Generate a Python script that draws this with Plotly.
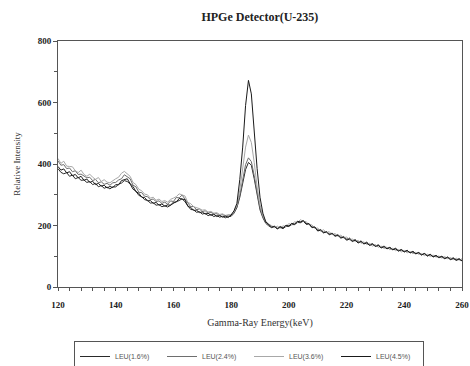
import plotly.graph_objects as go

energy = list(range(120, 261))

leu_16 = [385, 373, 368, 372, 360, 364, 352, 356, 347, 348, 340, 343, 333, 337, 326, 330, 321, 325, 319, 326,
          325, 335, 338, 346, 343, 335, 318, 312, 298, 294, 284, 282, 273, 274, 266, 268, 261, 264, 260, 266,
          270, 278, 281, 287, 277, 263, 252, 251, 243, 245, 237, 240, 232, 236, 229, 233, 227, 230, 225, 229,
          230, 240, 258, 292, 338, 382, 405, 396, 352, 296, 251, 225, 207, 199, 193, 196, 190, 194, 190, 197,
          197, 203, 203, 210, 209, 214, 204, 205, 193, 194, 184, 186, 177, 180, 172, 175, 166, 170, 161, 164,
          155, 159, 150, 154, 145, 150, 141, 146, 137, 141, 133, 137, 129, 133, 125, 129, 122, 126, 118, 122,
          115, 119, 111, 116, 108, 112, 105, 109, 102, 106, 99, 103, 96, 100, 94, 97, 91, 95, 88, 92, 86]

leu_24 = [410, 396, 398, 385, 387, 375, 378, 366, 367, 360, 355, 357, 346, 350, 339, 342, 334, 337, 331, 339,
          340, 348, 352, 365, 358, 352, 331, 326, 308, 307, 295, 294, 284, 286, 278, 280, 272, 276, 269, 280,
          278, 291, 290, 299, 286, 275, 261, 262, 251, 254, 245, 248, 240, 243, 237, 239, 232, 236, 230, 234,
          232, 242, 262, 298, 345, 398, 420, 408, 362, 303, 257, 228, 211, 203, 195, 198, 191, 197, 193, 200,
          199, 206, 205, 213, 212, 216, 207, 206, 195, 195, 186, 187, 179, 180, 173, 174, 168, 169, 162, 163,
          156, 157, 151, 153, 147, 148, 142, 144, 138, 140, 134, 136, 130, 132, 126, 128, 122, 124, 118, 120,
          115, 117, 111, 114, 108, 110, 105, 107, 101, 104, 98, 101, 95, 98, 93, 95, 90, 93, 87, 90, 85]

leu_36 = [418, 402, 409, 393, 392, 391, 378, 372, 380, 366, 360, 367, 357, 350, 356, 343, 349, 341, 339, 347,
          352, 357, 370, 376, 368, 360, 340, 333, 318, 313, 302, 300, 289, 292, 282, 286, 278, 281, 276, 285,
          289, 294, 303, 300, 296, 275, 271, 261, 259, 255, 250, 251, 244, 246, 240, 242, 236, 238, 233, 235,
          236, 246, 266, 315, 380, 455, 494, 470, 405, 325, 268, 232, 214, 204, 200, 193, 198, 191, 199, 197,
          206, 203, 212, 209, 219, 213, 213, 201, 202, 190, 192, 181, 186, 177, 180, 170, 174, 165, 169, 159,
          163, 153, 156, 148, 152, 142, 147, 138, 142, 133, 138, 129, 133, 125, 130, 121, 126, 118, 122, 114,
          119, 111, 116, 108, 113, 106, 109, 102, 107, 99, 104, 97, 101, 94, 99, 92, 96, 89, 94, 87, 92]

leu_45 = [392, 380, 384, 371, 375, 362, 366, 355, 360, 347, 351, 340, 344, 333, 337, 328, 331, 322, 327, 323,
          333, 332, 346, 349, 352, 336, 327, 310, 305, 292, 291, 280, 281, 272, 275, 266, 270, 263, 267, 266,
          276, 276, 288, 286, 284, 262, 259, 249, 250, 242, 244, 237, 240, 233, 237, 229, 233, 227, 231, 226,
          234, 248, 272, 350, 455, 590, 672, 628, 505, 385, 292, 240, 212, 203, 195, 197, 189, 196, 191, 201,
          198, 207, 204, 214, 211, 216, 205, 206, 194, 195, 182, 185, 176, 179, 170, 174, 165, 168, 159, 162,
          152, 156, 148, 152, 143, 148, 140, 143, 135, 139, 132, 135, 127, 131, 124, 128, 121, 124, 117, 121,
          114, 119, 111, 115, 108, 112, 104, 109, 101, 106, 98, 102, 96, 99, 92, 97, 89, 93, 87, 91, 85]

series_names = ["LEU(1.6%)", "LEU(2.4%)", "LEU(3.6%)", "LEU(4.5%)"]
series_values = [leu_16, leu_24, leu_36, leu_45]
series_colors = ["#2a2a2a", "#6e6e6e", "#a8a8a8", "#1a1a1a"]

fig = go.Figure()
for name, vals, col in zip(series_names, series_values, series_colors):
    fig.add_trace(go.Scatter(x=energy, y=vals, mode="lines", name=name,
                             line=dict(color=col, width=1)))

serif = "Liberation Serif"
fig.update_layout(
    width=470, height=366,
    margin=dict(l=58, r=8, t=41, b=79),
    paper_bgcolor="white", plot_bgcolor="white",
    title=dict(text="HPGe Detector(U-235)", x=0.553, xanchor="center",
               y=1 - 17 / 366, yanchor="middle",
               font=dict(family=serif, size=12, color="#222", weight="bold")),
    showlegend=True,
    legend=dict(orientation="h", xref="container", yref="container",
                x=74 / 470, xanchor="left", y=1 - 341 / 366, yanchor="top",
                bordercolor="#555", borderwidth=1, entrywidth=42,
                font=dict(family="Liberation Sans", size=7, color="#555"),
                itemwidth=30, tracegroupgap=0),
)
fig.update_xaxes(range=[120, 260], dtick=20, tick0=120, automargin=False,
                 showgrid=False, zeroline=False,
                 showline=True, linecolor="#555", linewidth=1, mirror=True,
                 ticks="outside", ticklen=3, tickcolor="#555",
                 minor=dict(dtick=4, tick0=120, ticks="outside", ticklen=3, tickcolor="#555", showgrid=False),
                 ticklabelstandoff=6,
                 tickfont=dict(family=serif, size=9, color="#222", weight="bold"),
                 title=dict(text="Gamma-Ray Energy(keV)", standoff=10,
                            font=dict(family=serif, size=10, color="#333")))
fig.update_yaxes(range=[0, 800], dtick=200, automargin=False,
                 showgrid=False, zeroline=False,
                 showline=True, linecolor="#555", linewidth=1, mirror=True,
                 ticks="outside", ticklen=4, tickcolor="#555",
                 minor=dict(dtick=100, ticks="outside", ticklen=3, tickcolor="#555", showgrid=False),
                 tickfont=dict(family=serif, size=9, color="#222", weight="bold"),
                 title=dict(text="Relative Intensity", standoff=15,
                            font=dict(family=serif, size=9, color="#333")))

fig.write_html("out.html", config={"displayModeBar": False},
               post_script="document.body.style.margin='0';document.body.style.padding='0';")
